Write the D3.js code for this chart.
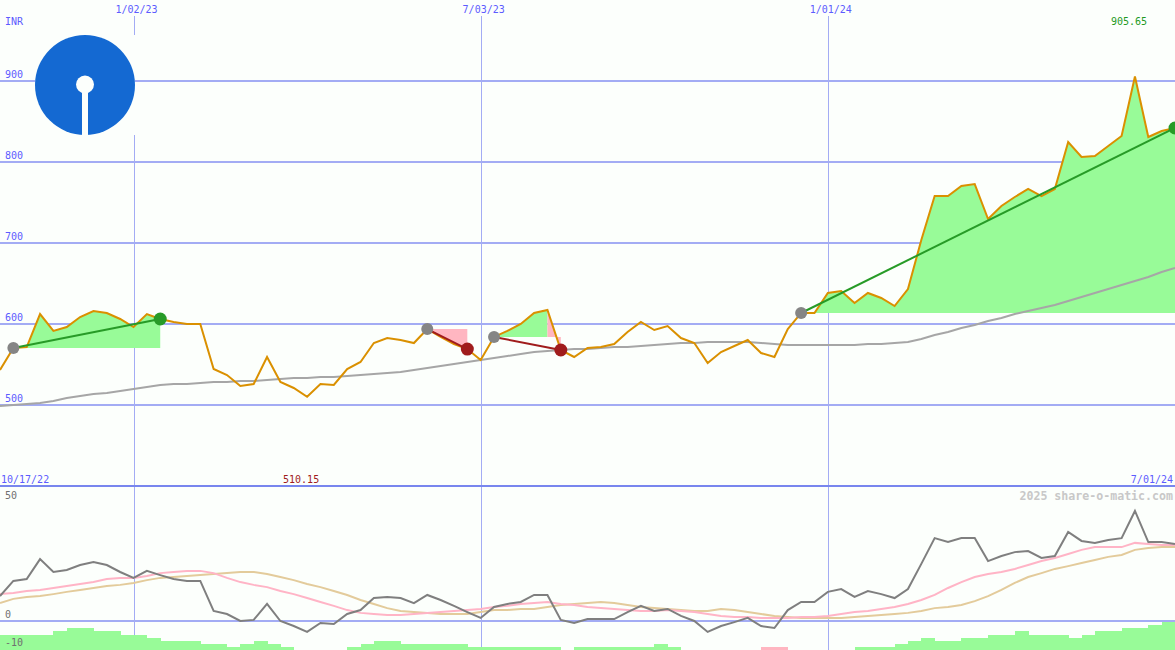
<!DOCTYPE html>
<html><head><meta charset="utf-8">
<script src="https://cdn.jsdelivr.net/npm/d3@7"></script>
<style>html,body{margin:0;padding:0;background:#fcfffc;overflow:hidden}</style>
</head><body>
<svg id="c" width="1175" height="650"></svg>
<script>
// ---- data (weekly, starting Monday 10/24/22) ----
const price = [543.2,570.4,571.6,612.3,591.4,596.3,608.6,616.0,613.6,606.2,
596.3,612.3,606.2,602.5,600.0,600.0,544.4,537.0,523.5,525.9,
559.3,528.4,521.0,510.15,525.9,524.7,544.4,553.1,576.5,582.7,
580.2,576.5,593.8,584.0,575.3,569.1,555.6,584.0,591.4,600.0,
613.6,617.3,567.9,559.3,570.4,571.6,575.3,590.1,602.5,592.6,
597.5,582.7,576.5,551.9,565.4,572.8,580.2,564.2,559.3,593.8,
613.6,613.6,638.3,640.7,625.9,638.3,632.1,622.2,643.2,703.7,
758.0,758.0,770.4,772.8,729.6,745.7,756.8,766.7,758.0,766.7,
824.7,806.2,807.4,819.8,832.1,905.65,830.9,838.3,842.0];
const movingAvg = [498.8,500.0,501.2,502.5,504.9,508.6,511.1,513.6,514.8,517.3,
519.8,522.2,524.7,525.9,525.9,527.2,528.4,528.4,529.6,529.6,
530.9,532.1,533.3,533.3,534.6,534.6,535.8,537.0,538.3,539.5,
540.7,543.2,545.7,548.1,550.6,553.1,555.6,558.0,560.5,563.0,
565.4,566.7,567.9,569.1,569.1,570.4,571.6,571.6,572.8,574.1,
575.3,576.5,576.5,577.8,577.8,577.8,577.8,576.5,575.3,574.1,
574.1,574.1,574.1,574.1,574.1,575.3,575.3,576.5,577.8,581.5,
586.4,590.1,595.1,598.8,603.7,607.4,612.3,616.0,619.8,623.5,
628.4,633.3,638.3,643.2,648.1,653.1,658.0,664.2,669.1];
const oscLine = [8.9,14.3,15.0,22.1,17.5,18.2,20.0,21.1,20.0,17.5,
15.4,17.9,16.4,15.0,14.3,14.3,3.6,2.5,0,0.4,
6.1,0,-1.8,-3.9,-0.7,-1.1,2.5,3.9,8.2,8.6,
8.2,6.4,9.3,7.5,5.4,3.2,1.1,5.0,6.1,6.8,
9.3,9.3,0.4,-0.7,0.7,0.7,0.7,3.2,5.4,3.6,
4.3,1.8,0,-3.9,-1.8,-0.4,1.1,-1.8,-2.5,3.9,
6.8,6.8,10.4,11.4,8.6,10.7,9.6,8.2,11.4,20.4,
29.6,28.2,29.6,29.6,21.4,23.2,24.6,25.0,22.5,23.2,
31.8,28.6,27.9,28.9,29.6,39.3,28.2,28.2,27.5];
const oscFast = [9.6,10.0,10.7,11.1,11.8,12.5,13.2,13.9,15.0,15.4,
15.4,16.1,17.1,17.5,17.9,17.9,17.1,15.4,13.9,12.9,
12.1,10.7,9.6,8.2,6.8,5.4,3.9,2.9,2.5,2.1,
2.1,2.5,2.9,3.2,3.6,3.9,4.3,5.0,5.4,6.1,
6.4,6.8,6.1,5.7,5.0,4.6,4.3,3.9,3.6,3.6,
3.9,3.6,3.2,2.5,1.8,1.4,1.4,1.1,1.1,1.1,
1.4,1.4,1.8,2.5,3.2,3.6,4.3,5.0,6.1,7.5,
9.3,11.8,13.9,15.7,16.8,17.5,18.6,20.0,21.4,22.5,
23.9,25.4,26.4,26.4,26.4,27.9,27.5,27.1,27.1];
const oscSlow = [6.4,7.9,8.6,8.9,9.6,10.4,11.1,11.8,12.5,12.9,
13.6,14.6,15.4,15.7,16.1,16.4,16.8,17.1,17.5,17.5,
16.8,15.7,14.6,13.2,12.1,10.7,9.3,7.5,6.1,4.6,
3.6,3.2,2.9,2.5,2.5,2.5,3.2,3.9,3.9,4.3,
4.3,5.0,5.7,6.1,6.4,6.8,6.4,5.7,5.0,4.6,
4.3,3.9,3.6,3.6,4.3,3.9,3.2,2.5,1.8,1.4,
1.1,1.1,1.1,1.1,1.4,1.8,2.1,2.5,2.9,3.6,
4.6,5.0,5.7,7.1,8.9,11.1,13.6,15.7,17.1,18.6,
19.6,20.7,21.8,22.9,23.6,25.4,26.1,26.4,26.4];
const histo = [5,5,5,5,6.3,7.3,7.3,6.3,6.3,5,
5,4,3,3,3,2,2,1,2,3,
2,1,0,0,0,0,1,2,3,3,
2,2,2,2,2,1,1,1,1,1,
1,1,0,1,1,1,1,1,1,2,
1,0,0,0,0,0,0,-1,-1,0,
0,0,0,0,1,1,1,2,3,4,
3,3,4,4,5,5,6.3,5,5,5,
4,5,6.3,6.3,7.3,7.3,8.3,9.3];
const signalEntry = [1, 32, 37, 60];
const signalExit  = [12, 35, 42, 88];
const priceTicks = [500, 600, 700, 800, 900];
const oscTicks = [50, 0, -10];
const gridDates = [new Date(2023,0,2), new Date(2023,6,3), new Date(2024,0,1)];
const gridLabels = ["1/02/23", "7/03/23", "1/01/24"];
const startLabel = "10/17/22", endLabel = "7/01/24";
const currency = "INR";
const credit = "2025 share-o-matic.com";

// ---- layout ----
const W = 1175, H = 650;
const dates = d3.timeMonday.range(new Date(2022,9,24), new Date(2024,6,2)).slice(0, price.length);
const x = d3.scaleTime().domain([dates[0], dates[dates.length-1]]).range([0, W]);
const y = d3.scaleLinear().domain([500, 900]).range([405, 81]);
const yL = d3.scaleLinear().domain([0, 10]).range([621, 593]);
const yB = d3.scaleLinear().domain([0, 10]).range([650, 620]);

const C = {bg:"#fcfffc", grid:"#a3acf4", sep:"#7886ee", lab:"#5c5cff", glab:"#707070",
  price:"#da9000", ma:"#a6a6a6", up:"#98fb98", dn:"#ffb6c1", gline:"#279b27", rline:"#a01c1c",
  entry:"#858585", osc:"#7f7f7f", fast:"#ffb4c6", slow:"#e3cb9b", logo:"#1469d2"};
const FONT = "'DejaVu Sans Mono', monospace";

const svg = d3.select("#c");
svg.append("rect").attr("width", W).attr("height", H).attr("fill", C.bg);

// vertical grid
svg.append("g").selectAll("line").data(gridDates).join("line")
  .attr("x1", d => Math.round(x(d)) + 0.5).attr("x2", d => Math.round(x(d)) + 0.5)
  .attr("y1", 16).attr("y2", H).attr("stroke", C.grid).attr("stroke-width", 1)
  .attr("shape-rendering", "crispEdges");
// horizontal grid (price)
svg.append("g").selectAll("line").data(priceTicks).join("line")
  .attr("x1", 0).attr("x2", W).attr("y1", d => y(d)).attr("y2", d => y(d))
  .attr("stroke", C.grid).attr("stroke-width", 2).attr("shape-rendering", "crispEdges");
// zero line lower panel
svg.append("line").attr("x1", 0).attr("x2", W).attr("y1", yL(0)).attr("y2", yL(0))
  .attr("stroke", C.grid).attr("stroke-width", 2).attr("shape-rendering", "crispEdges");
// separator
svg.append("line").attr("x1", 0).attr("x2", W).attr("y1", 486).attr("y2", 486)
  .attr("stroke", C.sep).attr("stroke-width", 2).attr("shape-rendering", "crispEdges");

// logo
const logo = svg.append("g");
logo.append("rect").attr("x", 35).attr("y", 35).attr("width", 100).attr("height", 100).attr("fill", C.bg);
logo.append("circle").attr("cx", 85).attr("cy", 85).attr("r", 50).attr("fill", C.logo);
logo.append("rect").attr("x", 82).attr("y", 84).attr("width", 6).attr("height", 52).attr("fill", C.bg);
logo.append("circle").attr("cx", 85).attr("cy", 84.5).attr("r", 9).attr("fill", C.bg);

// signal fills: runs of segments coloured by end point vs entry level, merged per colour
const fillG = svg.append("g");
signalEntry.forEach((e, k) => {
  const base = price[e], ex = signalExit[k];
  const area = d3.area().x(i => x(dates[i])).y0(y(base)).y1(i => y(price[i]));
  let run = [e], col = price[e + 1] >= base;
  for (let j = e; j < ex; j++) {
    const c = price[j + 1] >= base;
    if (c !== col) {
      fillG.append("path").attr("d", area(run)).attr("fill", col ? C.up : C.dn);
      run = [j]; col = c;
    }
    run.push(j + 1);
  }
  fillG.append("path").attr("d", area(run)).attr("fill", col ? C.up : C.dn);
});

// moving average & price
const lineP = d3.line().x((d, i) => x(dates[i])).y(d => y(d));
svg.append("path").attr("d", lineP(movingAvg)).attr("fill", "none").attr("stroke", C.ma).attr("stroke-width", 2);
svg.append("path").attr("d", lineP(price)).attr("fill", "none").attr("stroke", C.price).attr("stroke-width", 2);

// signal lines & markers
signalEntry.forEach((e, k) => {
  const ex = signalExit[k], win = price[ex] >= price[e];
  svg.append("line").attr("x1", x(dates[e])).attr("y1", y(price[e]))
    .attr("x2", x(dates[ex])).attr("y2", y(price[ex]))
    .attr("stroke", win ? C.gline : C.rline).attr("stroke-width", 2);
  svg.append("circle").attr("cx", x(dates[e])).attr("cy", y(price[e])).attr("r", 6).attr("fill", C.entry);
  svg.append("circle").attr("cx", x(dates[ex])).attr("cy", y(price[ex])).attr("r", 6.5)
    .attr("fill", win ? C.gline : C.rline);
});

// lower panel bars
svg.append("g").selectAll("rect").data(histo).join("rect")
  .attr("x", (d, i) => x(dates[i])).attr("width", (d, i) => x(dates[i + 1]) - x(dates[i]) + 0.5)
  .attr("y", d => yB(Math.abs(d))).attr("height", d => yB(0) - yB(Math.abs(d)))
  .attr("fill", d => d >= 0 ? C.up : C.dn).attr("shape-rendering", "crispEdges");

const lineL = d3.line().x((d, i) => x(dates[i])).y(d => yL(d));
svg.append("path").attr("d", lineL(oscSlow)).attr("fill", "none").attr("stroke", C.slow).attr("stroke-width", 2);
svg.append("path").attr("d", lineL(oscFast)).attr("fill", "none").attr("stroke", C.fast).attr("stroke-width", 2);
svg.append("path").attr("d", lineL(oscLine)).attr("fill", "none").attr("stroke", C.osc).attr("stroke-width", 2);

// texts
const txt = (s, xx, yy, col, anchor, extra) => {
  const t = svg.append("text").attr("x", xx).attr("y", yy).attr("fill", col)
    .attr("font-family", FONT).attr("font-size", "10px").attr("text-anchor", anchor || "start").text(s);
  if (extra) extra(t);
  return t;
};
priceTicks.forEach(v => txt(String(v), 5, y(v) - 2.7, C.lab));
txt(currency, 5, 25, C.lab);
gridDates.forEach((d, i) => txt(gridLabels[i], x(d) + 3, 12.7, C.lab, "middle"));
txt(startLabel, 1, 483, C.lab);
txt(endLabel, 1173, 483, C.lab, "end");
oscTicks.forEach(v => txt(String(v), 5, Math.max(yL(v) - 2.7, 499.3), C.glab));
txt(credit, 1173, 500, "#c8c8c8", "end", t => t.attr("font-size", "11.6px").attr("font-weight", "bold"));

const iMax = d3.maxIndex(price), iMin = d3.minIndex(price);
txt(price[iMax].toFixed(2), x(dates[iMax]) - 6, 24.6, "#1f9a1f", "middle");
txt(price[iMin].toFixed(2), x(dates[iMin]) - 6, 483, "#a01c1c", "middle");
</script>
</body></html>
